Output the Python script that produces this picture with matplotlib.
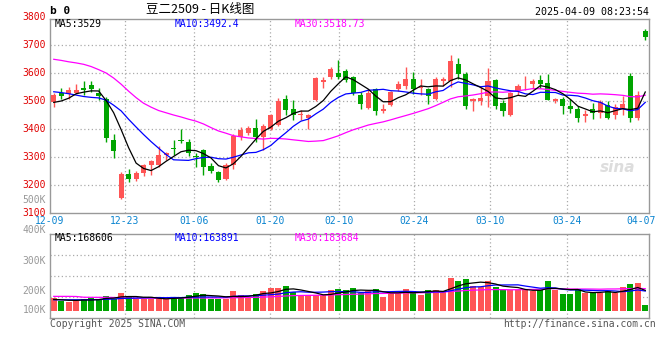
import numpy as np
import pandas as pd
import matplotlib
matplotlib.use("Agg")
import matplotlib.pyplot as plt
import matplotlib.transforms as mtransforms

# ---- data (DCE soybean No.2, 2509 contract, daily) ----
opens = [3495, 3530, 3524, 3527, 3545, 3557, 3530, 3508, 3361, 3155,
         3241, 3220, 3242, 3272, 3270, 3306, 3330, 3362, 3352, 3302,
         3324, 3268, 3247, 3221, 3273, 3372, 3387, 3405, 3372, 3401,
         3416, 3506, 3473, 3450, 3441, 3502, 3568, 3586, 3601, 3608,
         3586, 3523, 3476, 3542, 3463, 3485, 3542, 3554, 3580, 3545,
         3542, 3506, 3571, 3570, 3633, 3598, 3499, 3499, 3518, 3576,
         3494, 3449, 3535, 3552, 3560, 3576, 3564, 3499, 3508, 3482,
         3470, 3445, 3473, 3457, 3487, 3449, 3475, 3589, 3440, 3749]
highs = [3530, 3547, 3549, 3561, 3571, 3571, 3545, 3514, 3382, 3246,
         3256, 3250, 3276, 3290, 3338, 3318, 3360, 3401, 3366, 3313,
         3330, 3277, 3251, 3280, 3383, 3407, 3411, 3437, 3419, 3455,
         3512, 3520, 3502, 3467, 3453, 3586, 3586, 3621, 3648, 3615,
         3590, 3532, 3544, 3546, 3490, 3535, 3570, 3621, 3604, 3580,
         3546, 3586, 3586, 3663, 3654, 3604, 3510, 3550, 3618, 3580,
         3502, 3532, 3562, 3589, 3577, 3592, 3598, 3510, 3514, 3508,
         3482, 3467, 3494, 3502, 3499, 3491, 3518, 3600, 3535, 3756]
lows = [3478, 3507, 3506, 3525, 3523, 3533, 3503, 3352, 3298, 3149,
        3210, 3214, 3233, 3236, 3265, 3290, 3307, 3350, 3303, 3265,
        3236, 3242, 3210, 3218, 3257, 3360, 3380, 3354, 3324, 3395,
        3411, 3451, 3431, 3431, 3399, 3500, 3546, 3580, 3577, 3568,
        3520, 3470, 3473, 3449, 3458, 3482, 3535, 3542, 3526, 3520,
        3490, 3502, 3554, 3550, 3580, 3473, 3463, 3487, 3479, 3470,
        3445, 3448, 3523, 3538, 3542, 3548, 3503, 3494, 3455, 3457,
        3425, 3425, 3437, 3441, 3437, 3437, 3449, 3425, 3431, 3717]
closes = [3520, 3519, 3539, 3539, 3541, 3543, 3517, 3367, 3323, 3239,
          3220, 3242, 3271, 3286, 3308, 3316, 3328, 3356, 3313, 3300,
          3264, 3250, 3218, 3273, 3375, 3395, 3405, 3372, 3411, 3451,
          3500, 3467, 3449, 3453, 3451, 3582, 3574, 3613, 3587, 3576,
          3530, 3491, 3529, 3463, 3473, 3532, 3562, 3580, 3544, 3550,
          3518, 3577, 3577, 3643, 3598, 3481, 3508, 3512, 3573, 3481,
          3463, 3530, 3554, 3555, 3573, 3562, 3505, 3508, 3481, 3473,
          3441, 3455, 3457, 3497, 3440, 3479, 3491, 3439, 3523, 3729]
# volume in thousands of lots
volumes = [107, 85, 74, 85, 98, 109, 98, 126, 98, 148,
           123, 98, 98, 98, 107, 98, 115, 115, 131, 148,
           139, 98, 98, 98, 164, 131, 115, 139, 167, 189,
           189, 205, 156, 123, 128, 128, 128, 172, 180, 172,
           189, 145, 161, 180, 115, 145, 145, 180, 164, 134,
           172, 172, 161, 270, 249, 262, 208, 194, 249, 194,
           175, 175, 169, 169, 161, 175, 249, 175, 139, 139,
           180, 148, 148, 148, 167, 148, 197, 221, 230, 49]

# moving-average values at the left edge (they depend on days before the window)
ma5_head = [3495, 3500, 3510, 3526]
ma10_head = [3533, 3530, 3526, 3521, 3516, 3513, 3511, 3503, 3485]
ma30_head = [3649, 3645, 3640, 3636, 3631, 3623, 3612, 3600, 3582, 3560,
             3535, 3512, 3492, 3478, 3466, 3458, 3450, 3443, 3435, 3428,
             3418, 3405, 3393, 3385, 3376, 3372, 3368, 3366, 3364]
vma5_head = [95, 92, 88, 87]
vma10_head = [92, 92, 92, 92, 92, 93, 94, 96, 98]
vma30_head = [120, 120, 120, 119, 113, 112, 112, 112, 111, 108,
              106, 105, 105, 105, 105, 105, 106, 106, 106, 107,
              107, 107, 107, 108, 109, 110, 111, 112, 114]

price_ticks = [3800, 3700, 3600, 3500, 3400, 3300, 3200, 3100]
vol_tick_labels = ["500K", "400K", "300K", "200K", "100K"]
date_labels = ["12-09", "12-23", "01-06", "01-20", "02-10",
               "02-24", "03-10", "03-24", "04-07"]

# ---- derived series ----
df = pd.DataFrame({"open": opens, "high": highs, "low": lows,
                   "close": closes, "vol": volumes})


def moving(series, n, head):
    ma = series.rolling(n).mean().to_numpy()
    ma[:len(head)] = head
    return ma


ma5 = moving(df["close"], 5, ma5_head)
ma10 = moving(df["close"], 10, ma10_head)
ma30 = moving(df["close"], 30, ma30_head)
vma5 = moving(df["vol"], 5, vma5_head)
vma10 = moving(df["vol"], 10, vma10_head)
vma30 = moving(df["vol"], 30, vma30_head)

x = np.arange(len(df))
up = df["close"] >= df["open"]
RED = "#ff5555"
GREEN = "#00a400"
colors = np.where(up, RED, GREEN)

# ---- layout in pixels ----
W, H = 660, 360
MONO = "DejaVu Sans Mono"


def rect(x0, y0, x1, y1):
    return [x0 / W, 1 - y1 / H, (x1 - x0) / W, (y1 - y0) / H]


def ftext(px, py, s, **kw):
    fig.text(px / W, 1 - py / H, s, va="center", **kw)


fig = plt.figure(figsize=(6.6, 3.6), dpi=100)
fig.patch.set_facecolor("white")

ax = fig.add_axes(rect(50, 19, 649, 213))
axv = fig.add_axes(rect(50, 234, 649, 318))

# date grid positions (where the chart puts them along the 80-day axis)
date_pos = [-0.5, 9.5, 18.7, 28.9, 38.1, 48.1, 58.3, 68.5, 78.4]

grid_kw = dict(color="#aaaaaa", lw=0.9, ls=(0, (1, 2)), zorder=0)

# ---- price panel ----
ax.set_xlim(-0.5, len(df) - 0.5)
ax.set_ylim(3100, 3100 + 194 / 0.28)
for p in price_ticks[1:-1]:
    ax.axhline(p, **grid_kw)
for d in date_pos[1:-1]:
    ax.axvline(d, **grid_kw)

ax.vlines(x, df["low"], df["high"], colors=colors, lw=1.0, zorder=2)
body_lo = np.minimum(df["open"], df["close"])
body_h = np.maximum((df["close"] - df["open"]).abs(), 2.5)
ax.bar(x, body_h, bottom=body_lo, width=0.68, color=colors, lw=0, zorder=3)

ax.plot(x, ma30, color="#ff00ff", lw=0.9, zorder=4)
ax.plot(x, ma10, color="#0000ff", lw=0.9, zorder=4)
ax.plot(x, ma5, color="black", lw=0.9, zorder=5)

ax.set_xticks([])
ax.set_yticks([])
for s in ax.spines.values():
    s.set_color("#999999")
    s.set_linewidth(1)

trans = mtransforms.blended_transform_factory(fig.transFigure, ax.transData)
for p in price_ticks:
    ax.text(46 / W, p, str(p), transform=trans, ha="right", va="center",
            color="#e00000", fontsize=7, family=MONO, clip_on=False)

# ---- volume panel ----
axv.set_xlim(-0.5, len(df) - 0.5)
axv.set_ylim(-7 * 8.2, 77 * 8.2)
for f in (0.25, 0.5, 0.75):
    axv.axhline(axv.get_ylim()[0] + f * (77 + 7) * 8.2, **grid_kw)
for d in date_pos[1:-1]:
    axv.axvline(d, **grid_kw)

axv.bar(x, df["vol"], width=0.8, color=colors, lw=0, zorder=2)
axv.plot(x, vma30, color="#ff00ff", lw=0.9, zorder=3)
axv.plot(x, vma10, color="#0000ff", lw=0.9, zorder=3)
axv.plot(x, vma5, color="black", lw=0.9, zorder=4)

axv.set_xticks([])
axv.set_yticks([])
for s in axv.spines.values():
    s.set_color("#999999")
    s.set_linewidth(1)

for lab, py in zip(vol_tick_labels, [200, 230, 261, 291, 310]):
    ftext(46, py, lab, ha="right", color="#999999", fontsize=7, family=MONO)

# date labels under the price panel
tx = mtransforms.blended_transform_factory(ax.transData, fig.transFigure)
for d, lab in zip(date_pos, date_labels):
    ax.text(d, 1 - 221 / H, lab, transform=tx, ha="center", va="center",
            color="#0a84d0", fontsize=7, family=MONO, clip_on=False)

# ---- header texts ----
ftext(50, 11, "b 0", ha="left", fontsize=8, weight="bold", family=MONO)
ftext(200, 10, "豆二2509 - 日K线图", ha="center", fontsize=9,
      family=["Noto Sans CJK SC", "DejaVu Sans"])
ftext(649, 12, "2025-04-09 08:23:54", ha="right", fontsize=7.2, family=MONO)

ftext(55, 24, "MA5:3529", ha="left", fontsize=7, family=MONO)
ftext(175, 24, "MA10:3492.4", ha="left", fontsize=7, family=MONO, color="#0000ff")
ftext(295, 24, "MA30:3518.73", ha="left", fontsize=7, family=MONO, color="#ff00ff")

ftext(55, 238, "MA5:168606", ha="left", fontsize=7, family=MONO)
ftext(175, 238, "MA10:163891", ha="left", fontsize=7, family=MONO, color="#0000ff")
ftext(295, 238, "MA30:183684", ha="left", fontsize=7, family=MONO, color="#ff00ff")

ftext(50, 324, "Copyright 2025 SINA.COM", ha="left", fontsize=7,
      family=MONO, color="#555555")
ftext(656, 324, "http://finance.sina.com.cn", ha="right", fontsize=7,
      family=MONO, color="#555555")

# faint sina watermark
ftext(618, 168, "sina", ha="center", fontsize=11, weight="bold", style="italic",
      color="#dddddd")

fig.savefig("out.png", dpi=100)
